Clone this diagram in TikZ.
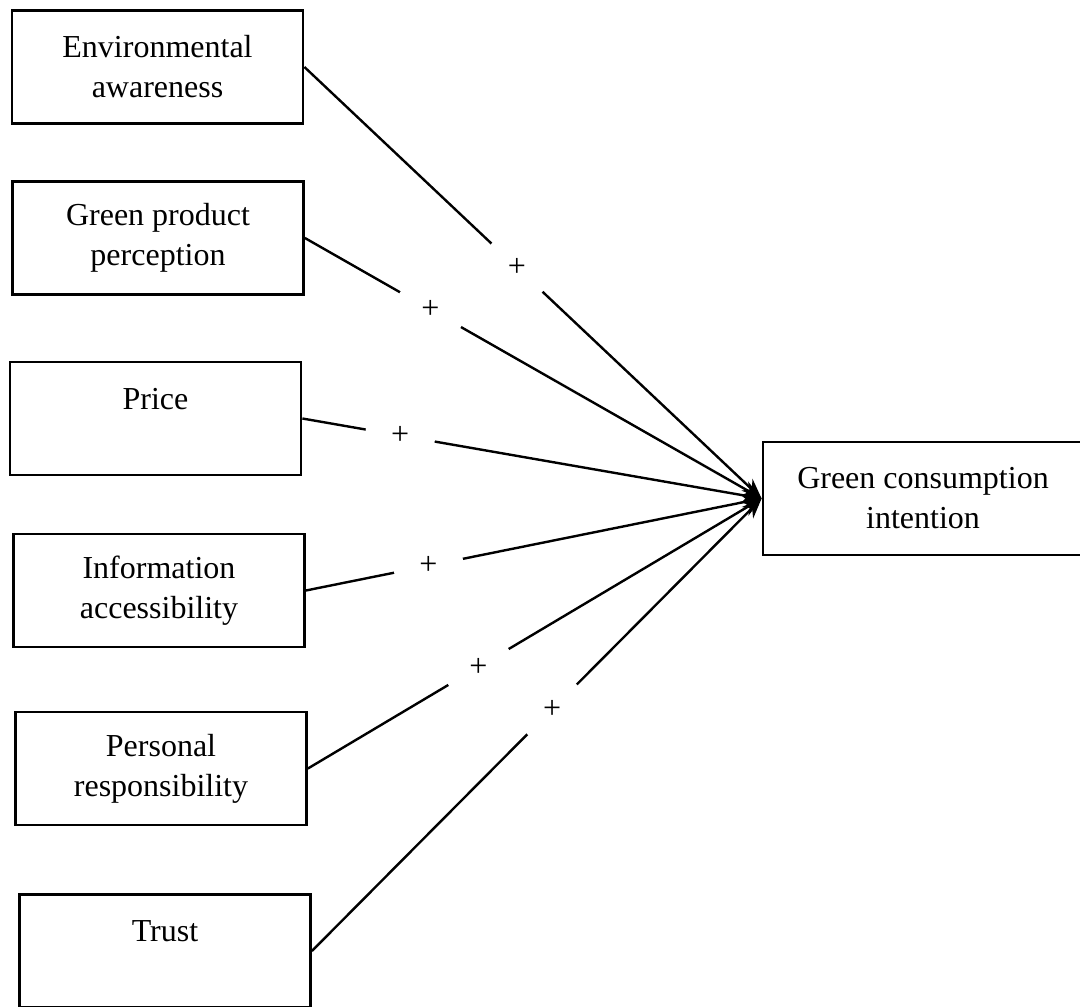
\documentclass[tikz,border=0pt]{standalone}
\usepackage{fontspec}
\setmainfont{Liberation Serif}
\usetikzlibrary{arrows.meta}

\begin{document}
\begin{tikzpicture}[x=0.5pt,y=-0.5pt]
		% Define box, arrow and sign styles
		\tikzset{factor/.style={draw, line width=1.4pt, minimum width=145.5pt, minimum height=56.5pt, align=center, font=\fontsize{16}{20}\selectfont},
			outcome/.style={factor, minimum width=160pt},
			effect/.style={line width=1.2pt, -{Stealth[length=10pt,width=8pt]}},
			sign/.style={circle, fill=white, minimum size=35pt, inner sep=0pt, font=\fontsize{16}{16}\selectfont}}
		
		\useasboundingbox (0,0) rectangle (1080,1006);
		
		% Draw the factor boxes on the left
		\node[factor] (env) at (157.5,67) {Environmental\\awareness};
		\node[factor] (gpp) at (158,238) {Green product\\perception};
		\node[factor] (price) at (155.5,418.5) {Price\\ \mbox{}};
		\node[factor] (info) at (159,590.5) {Information\\accessibility};
		\node[factor] (resp) at (161,768.5) {Personal\\responsibility};
		\node[factor] (trust) at (165,951) {Trust\\ \mbox{}};
		
		% Draw the outcome box on the right
		\node[outcome] (gci) at (923,498.5) {Green consumption\\intention};
		
		% Draw the arrows with a plus sign on each
		\draw[effect] (env.east) -- node[sign, pos=0.465] {+} (gci.west);
		\draw[effect] (gpp.east) -- node[sign, pos=0.275] {+} (gci.west);
		\draw[effect] (price.east) -- node[sign, pos=0.213] {+} (gci.west);
		\draw[effect] (info.east) -- node[sign, pos=0.269] {+} (gci.west);
		\draw[effect] (resp.east) -- node[sign, pos=0.376] {+} (gci.west);
		\draw[effect] (trust.east) -- node[sign, pos=0.534] {+} (gci.west);
	\end{tikzpicture}
\end{document}
